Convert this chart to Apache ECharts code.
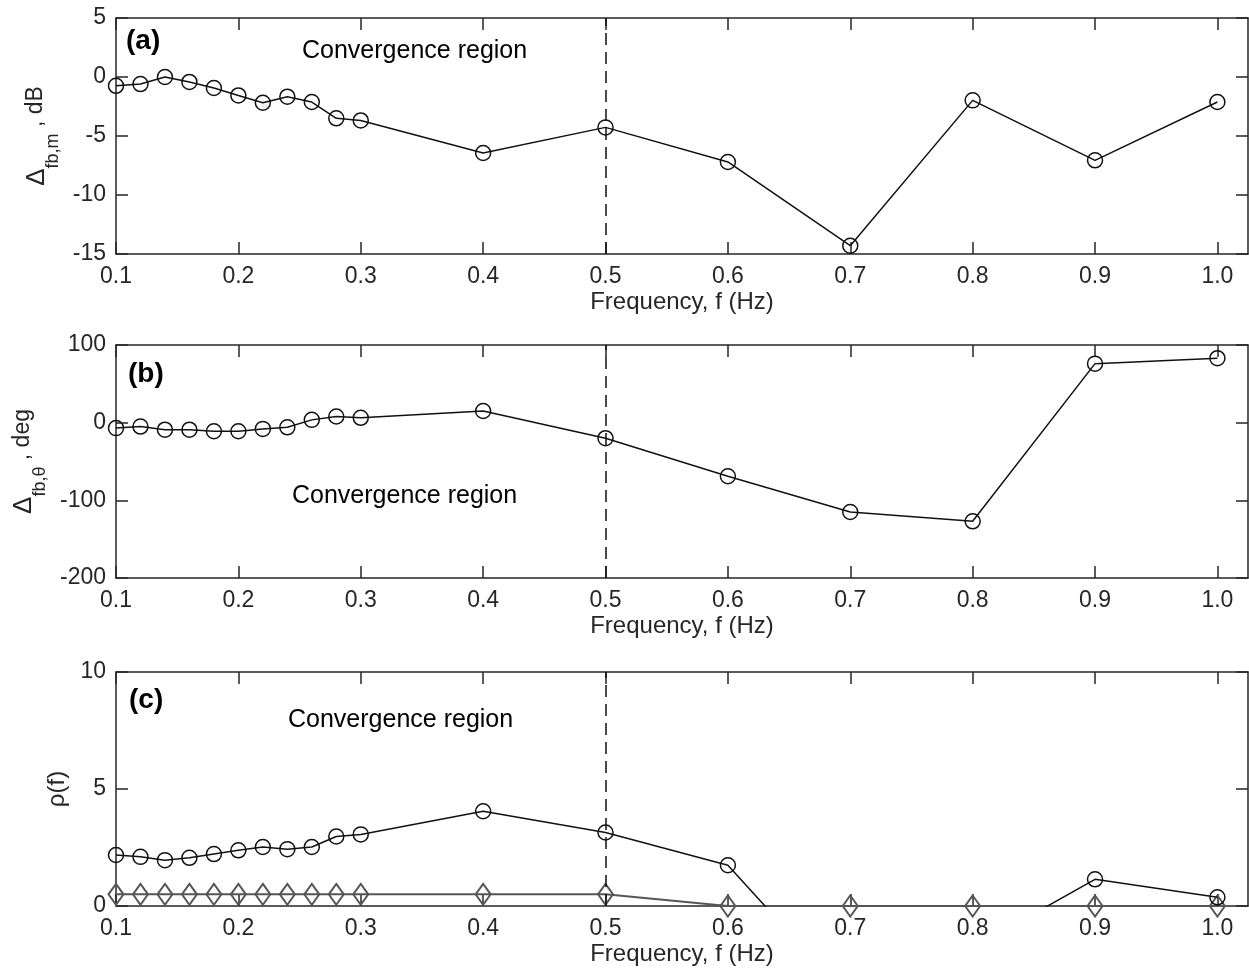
<!DOCTYPE html>
<html>
<head>
<meta charset="utf-8">
<script src="https://cdn.jsdelivr.net/npm/echarts@6/dist/echarts.min.js"></script>
<style>
html,body{margin:0;padding:0;background:#fff;}
#chart{width:1249px;height:973px;}
</style>
</head>
<body>
<div id="chart"></div>
<script>
// ---------- data ----------
var freq = [0.1, 0.12, 0.14, 0.16, 0.18, 0.2, 0.22, 0.24, 0.26, 0.28, 0.3, 0.4, 0.5, 0.6, 0.7, 0.8, 0.9, 1.0];
var magDiff = [-0.75, -0.6, 0.0, -0.42, -0.93, -1.56, -2.18, -1.67, -2.12, -3.5, -3.68, -6.44, -4.27, -7.2, -14.3, -1.98, -7.06, -2.12];
var phaseDiff = [-7, -5, -9, -9, -11, -11, -8, -6, 3.6, 7.9, 6.2, 15, -20, -69, -115, -127, 76, 83];
var rhoCircle = [2.18, 2.1, 1.96, 2.06, 2.22, 2.38, 2.52, 2.43, 2.52, 2.97, 3.06, 4.05, 3.14, 1.74, -4.0, -1.8, 1.14, 0.37];
var rhoDiamond = [0.5, 0.5, 0.5, 0.5, 0.5, 0.5, 0.5, 0.5, 0.5, 0.5, 0.5, 0.5, 0.5, 0, 0, 0, 0, 0];
var xTicks = [0.1, 0.2, 0.3, 0.4, 0.5, 0.6, 0.7, 0.8, 0.9, 1.0];
var convergenceLimit = 0.5;
var yRanges = [
  {min: -15, max: 5, interval: 5},
  {min: -200, max: 100, interval: 100},
  {min: 0, max: 10, interval: 5}
];
var panelLetters = ['(a)', '(b)', '(c)'];
var regionText = 'Convergence region';
var xName = 'Frequency, f (Hz)';

// ---------- styling ----------
var FONT = '"Liberation Sans", Arial, Helvetica, sans-serif';
var INK = '#262626';
var grids = [
  {left: 116, right: 1, top: 18, height: 236},
  {left: 116, right: 1, top: 345, height: 233},
  {left: 116, right: 1, top: 672, height: 234}
];

function pairs(ys) { return freq.map(function (f, i) { return [f, ys[i]]; }); }

var xAxes = [], yAxes = [];
grids.forEach(function (g, i) {
  var common = {
    type: 'value', gridIndex: i, min: 0.1, max: 1.025,
    splitLine: {show: false},
    axisLine: {show: true, onZero: false, lineStyle: {color: INK, width: 1.5}},
    axisTick: {show: true, inside: true, length: 12, customValues: xTicks, lineStyle: {color: INK, width: 1.5}}
  };
  xAxes.push(Object.assign({}, common, {
    position: 'bottom',
    name: xName, nameLocation: 'middle', nameGap: 36,
    nameTextStyle: {fontFamily: FONT, fontSize: 24, color: INK},
    axisLabel: {show: true, customValues: xTicks, margin: 11, fontFamily: FONT, fontSize: 23, color: INK,
      formatter: function (v) { return v.toFixed(1); }}
  }));
  xAxes.push(Object.assign({}, common, {position: 'top', axisLabel: {show: false}}));

  var yr = yRanges[i];
  var ycommon = {
    type: 'value', gridIndex: i, min: yr.min, max: yr.max, interval: yr.interval,
    splitLine: {show: false},
    axisLine: {show: true, onZero: false, lineStyle: {color: INK, width: 1.5}},
    axisTick: {show: true, inside: true, length: 12, lineStyle: {color: INK, width: 1.5}}
  };
  var yLeft = Object.assign({}, ycommon, {
    position: 'left',
    axisLabel: {show: true, margin: 10, fontFamily: FONT, fontSize: 23, color: INK},
    nameLocation: 'middle', nameRotate: 90
  });
  var richStyles = {
    d: {fontFamily: FONT, fontSize: 26, color: INK, verticalAlign: 'top'},
    s: {fontFamily: FONT, fontSize: 18, color: INK, verticalAlign: 'bottom', lineHeight: 38},
    t: {fontFamily: FONT, fontSize: 23, color: INK, verticalAlign: 'top'}
  };
  if (i === 0) {
    yLeft.name = '{d|Δ}{s|fb,m}{t| , dB}';
    yLeft.nameGap = 54;
    yLeft.nameTextStyle = {rich: richStyles};
  } else if (i === 1) {
    yLeft.name = '{d|Δ}{s|fb,θ}{t| , deg}';
    yLeft.nameGap = 66;
    yLeft.nameTextStyle = {rich: richStyles};
  } else {
    yLeft.name = 'ρ(f)';
    yLeft.nameGap = 45;
    yLeft.nameTextStyle = {fontFamily: FONT, fontSize: 24, color: INK};
  }
  yAxes.push(yLeft);
  yAxes.push(Object.assign({}, ycommon, {position: 'right', axisLabel: {show: false}}));
});

var markLineCfg = {
  silent: true, symbol: 'none', label: {show: false},
  lineStyle: {color: '#111', width: 1.5, type: [12, 7]},
  data: [{xAxis: convergenceLimit}]
};

function circleSeries(ys, gi, withMark) {
  var s = {
    type: 'line', xAxisIndex: gi * 2, yAxisIndex: gi * 2, data: pairs(ys),
    symbol: 'circle', symbolSize: 15, showAllSymbol: true, clip: true,
    lineStyle: {color: '#111', width: 1.5},
    itemStyle: {color: 'rgba(0,0,0,0)', borderColor: '#111', borderWidth: 1.5},
    emphasis: {disabled: true}, animation: false, z: 3
  };
  if (withMark) s.markLine = markLineCfg;
  return s;
}

var series = [
  circleSeries(magDiff, 0, true),
  circleSeries(phaseDiff, 1, true),
  circleSeries(rhoCircle, 2, true),
  {
    type: 'line', xAxisIndex: 4, yAxisIndex: 4, data: pairs(rhoDiamond),
    symbol: 'diamond', symbolSize: [15, 21], showAllSymbol: true, clip: true,
    lineStyle: {color: '#555', width: 2},
    itemStyle: {color: 'rgba(0,0,0,0)', borderColor: '#555', borderWidth: 2},
    emphasis: {disabled: true}, animation: false, z: 2
  }
];

var letterPos = [[126, 41], [128, 374], [129, 700]];
var regionPos = [[302, 51], [292, 496], [288, 720]];
var graphics = [];
for (var k = 0; k < 3; k++) {
  graphics.push({type: 'text', x: letterPos[k][0], y: letterPos[k][1], silent: true,
    style: {text: panelLetters[k], fontFamily: FONT, fontSize: 28, fontWeight: 'bold', fill: '#000',
      align: 'left', verticalAlign: 'middle', textAlign: 'left', textVerticalAlign: 'middle'}});
  graphics.push({type: 'text', x: regionPos[k][0], y: regionPos[k][1], silent: true,
    style: {text: regionText, fontFamily: FONT, fontSize: 25, fill: '#000',
      align: 'left', verticalAlign: 'middle', textAlign: 'left', textVerticalAlign: 'middle'}});
}

var chart = echarts.init(document.getElementById('chart'), null, {renderer: 'canvas'});
chart.setOption({
  animation: false,
  backgroundColor: '#fff',
  grid: grids,
  xAxis: xAxes,
  yAxis: yAxes,
  series: series,
  graphic: graphics
});
</script>
</body>
</html>
